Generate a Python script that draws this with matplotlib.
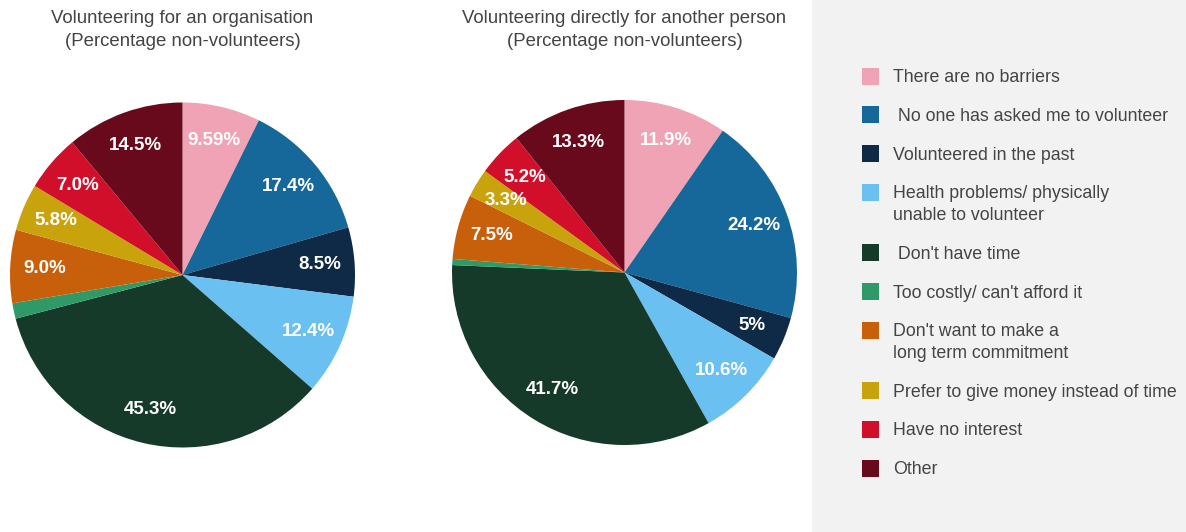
import numpy as np
import matplotlib.pyplot as plt
from matplotlib.patches import Rectangle

plt.rcParams['font.family'] = ['Liberation Sans', 'DejaVu Sans']

categorias = ['There are no barriers', ' No one has asked me to volunteer', 'Volunteered in the past',
              'Health problems/ physically\nunable to volunteer', ' Don\'t have time',
              'Too costly/ can\'t afford it', 'Don\'t want to make a\nlong term commitment',
              'Prefer to give money instead of time', 'Have no interest', 'Other']
colores = ['#EFA3B4', '#16679A', '#0E2A47', '#6BC0F2', '#163A2A',
           '#2F9A67', '#C8600B', '#C9A30C', '#D20F2B', '#690A1C']

organizacion = [9.59, 17.4, 8.5, 12.4, 45.3, 1.9, 9.0, 5.8, 7.0, 14.5]
etiq_org = ['9.59%', '17.4%', '8.5%', '12.4%', '45.3%', '', '9.0%', '5.8%', '7.0%', '14.5%']

persona = [11.9, 24.2, 5, 10.6, 41.7, 0.7, 7.5, 3.3, 5.2, 13.3]
etiq_per = ['11.9%', '24.2%', '5%', '10.6%', '41.7%', '', '7.5%', '3.3%', '5.2%', '13.3%']

W, H = 1186, 532
fig = plt.figure(figsize=(W / 100, H / 100), dpi=100)
fig.patch.set_facecolor('white')

# panel gris de la leyenda
fig.patches.append(Rectangle((812 / W, 0), 1 - 812 / W, 1, transform=fig.transFigure,
                             facecolor='#F2F2F2', edgecolor='none', zorder=0))


def dibujar_pie(cx, cy, r, valores, etiquetas, titulo):
    ax = fig.add_axes([(cx - r) / W, 1 - (cy + r) / H, 2 * r / W, 2 * r / H])
    ax.pie(valores, colors=colores, startangle=90, counterclock=False,
           wedgeprops=dict(linewidth=0))
    total = sum(valores)
    acum = 0
    for v, et in zip(valores, etiquetas):
        medio = 90 - (acum + v / 2) / total * 360
        acum += v
        if et:
            d = 0.8
            ax.text(d * np.cos(np.radians(medio)), d * np.sin(np.radians(medio)), et,
                    ha='center', va='center', color='white', fontsize=13.5, fontweight='bold')
    ax.set_xlim(-1, 1)
    ax.set_ylim(-1, 1)
    ax.set_aspect('equal')
    ax.axis('off')
    fig.text(cx / W, 1 - 30 / H, titulo, ha='center', va='center', fontsize=13.4,
             color='#444444', linespacing=1.45)


dibujar_pie(182.5, 275, 172.5, organizacion, etiq_org,
            'Volunteering for an organisation\n(Percentage non-volunteers)')
dibujar_pie(624.5, 272.5, 172.5, persona, etiq_per,
            'Volunteering directly for another person\n(Percentage non-volunteers)')

# leyenda manual
y = 76
for cat, col in zip(categorias, colores):
    fig.patches.append(Rectangle((862 / W, 1 - (y + 8.5) / H), 17 / W, 17 / H,
                                 transform=fig.transFigure, facecolor=col, edgecolor='none'))
    nl = cat.count('\n')
    fig.text(893 / W, 1 - (y - 7) / H, cat, ha='left', va='top', fontsize=12.75,
             color='#444444', linespacing=1.38)
    y += 38.8 + 21.5 * nl

plt.savefig('out.png', dpi=100)
